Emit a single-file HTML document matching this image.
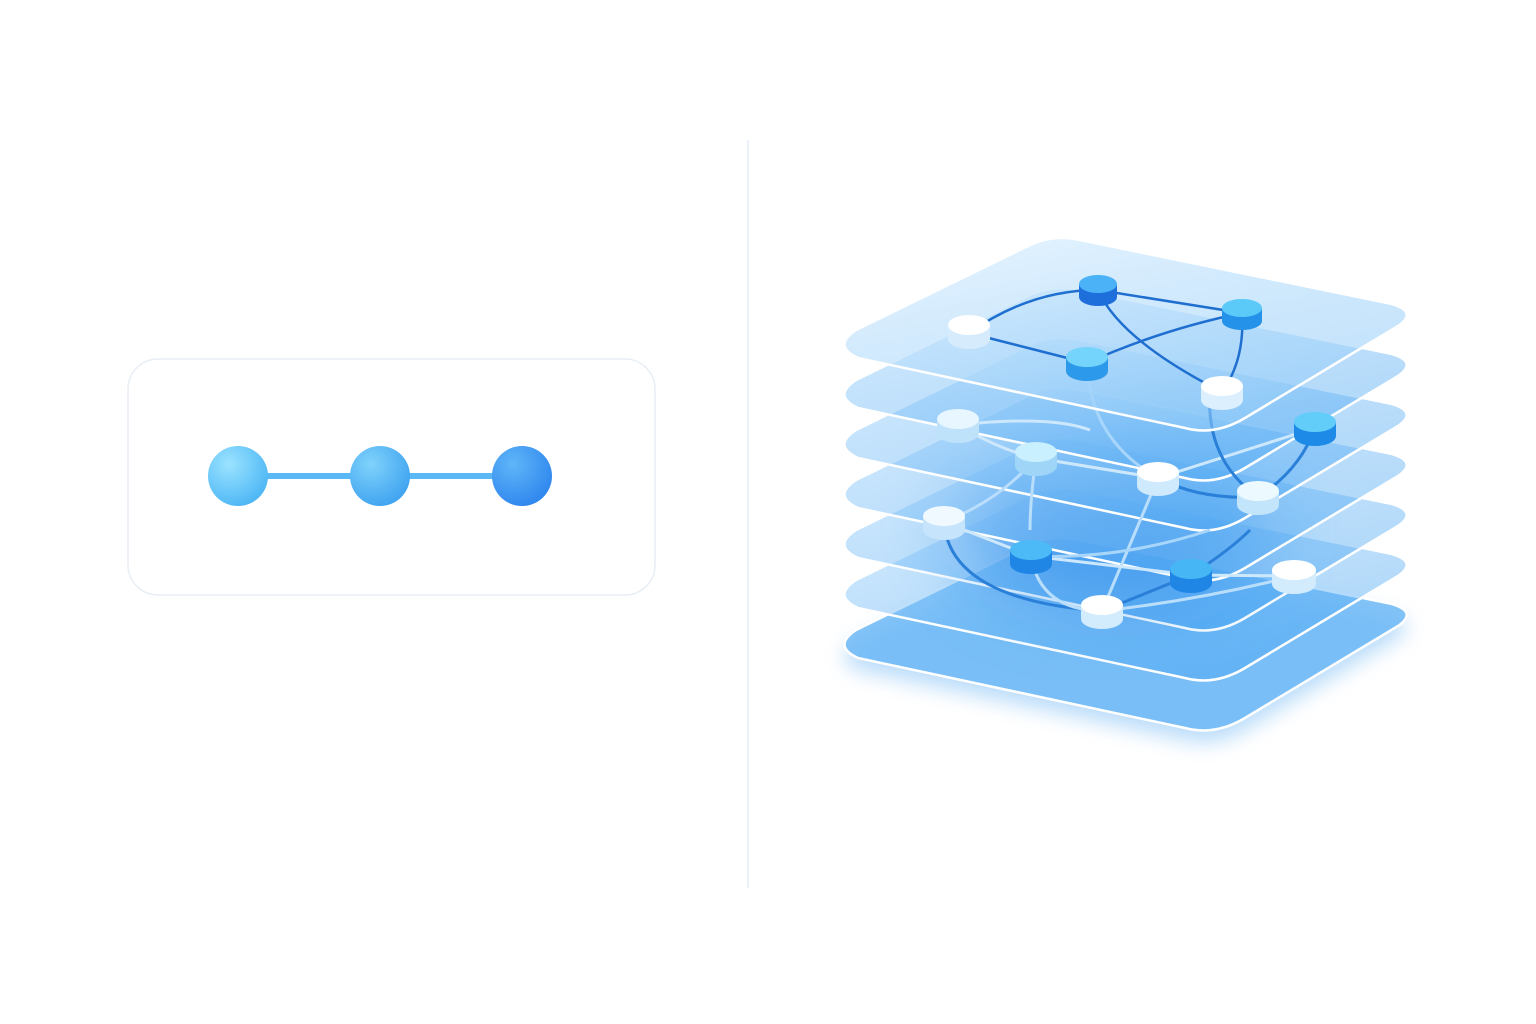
<!DOCTYPE html>
<html><head><meta charset="utf-8"><style>html,body{margin:0;padding:0;background:#fff;}svg{display:block}</style></head>
<body>
<svg width="1536" height="1024" viewBox="0 0 1536 1024" xmlns="http://www.w3.org/2000/svg">
<defs>
<radialGradient id="b1" cx="35%" cy="30%" r="75%"><stop offset="0" stop-color="#9be3ff"/><stop offset="1" stop-color="#4cb6f5"/></radialGradient>
<radialGradient id="b2" cx="35%" cy="30%" r="75%"><stop offset="0" stop-color="#7fd2fb"/><stop offset="1" stop-color="#3fa3f0"/></radialGradient>
<radialGradient id="b3" cx="35%" cy="30%" r="75%"><stop offset="0" stop-color="#5fb6f8"/><stop offset="1" stop-color="#2f86ee"/></radialGradient>
<linearGradient id="lay" x1="0" y1="0" x2="0.6" y2="1"><stop offset="0" stop-color="#b6ddfc" stop-opacity="0.55"/><stop offset="1" stop-color="#4aa6f3" stop-opacity="0.45"/></linearGradient>
<linearGradient id="top" x1="0" y1="0" x2="0.6" y2="1"><stop offset="0" stop-color="#e4f3ff" stop-opacity="0.8"/><stop offset="1" stop-color="#8fcaf8" stop-opacity="0.55"/></linearGradient>
<path id="L" d="M856,330 Q832,346 858,358 L1185,428 Q1215,436 1245,418 L1398,326 Q1418,312 1392,304 L1080,240 Q1052,234 1028,246 Z"/>
<filter id="sh" x="-20%" y="-20%" width="140%" height="140%"><feGaussianBlur stdDeviation="10"/></filter>
<filter id="bl" x="-50%" y="-50%" width="200%" height="200%"><feGaussianBlur stdDeviation="40"/></filter>
</defs>
<line x1="748" y1="140" x2="748" y2="888" stroke="#e6eef7" stroke-width="1.5"/>
<rect x="128" y="359" width="527" height="236" rx="30" fill="#fff" stroke="#e8eef5" stroke-width="1.5"/>
<line x1="238" y1="476" x2="522" y2="476" stroke="#5ab8f5" stroke-width="6"/>
<circle cx="238" cy="476" r="30" fill="url(#b1)"/>
<circle cx="380" cy="476" r="30" fill="url(#b2)"/>
<circle cx="522" cy="476" r="30" fill="url(#b3)"/>

<use href="#L" transform="translate(0,312)" fill="#3a9cf0" opacity="0.35" filter="url(#sh)"/>
<g stroke="#ffffff" stroke-width="2.5">
<use href="#L" transform="translate(0,300)" style="fill:#6db8f6;fill-opacity:0.85"/>
<use href="#L" transform="translate(0,250)" fill="url(#lay)"/>
<use href="#L" transform="translate(0,200)" fill="url(#lay)"/>
</g>
<ellipse cx="1110" cy="520" rx="150" ry="80" fill="#1f7fe6" opacity="0.55" filter="url(#bl)"/>
<g stroke="#ffffff" stroke-width="2.5">
<use href="#L" transform="translate(0,150)" fill="url(#lay)"/>
<use href="#L" transform="translate(0,100)" fill="url(#lay)"/>
<use href="#L" transform="translate(0,50)" fill="url(#lay)"/>
</g>
<g fill="none" stroke-width="3">
<path d="M944,522 Q1000,500 1036,458" stroke="#b8defc"/>
<path d="M958,425 Q1000,450 1036,458 L1158,478 L1315,428" stroke="#cde8fd"/>
<path d="M958,425 Q1050,415 1090,430" stroke="#cde8fd"/>
<path d="M1158,478 Q1200,500 1258,497 Q1300,470 1315,428" stroke="#2a7fd8"/>
<path d="M1087,363 Q1090,440 1158,478" stroke="#a8d6fb"/>
<path d="M1158,478 L1102,611" stroke="#b8defc"/>
<path d="M944,522 L1031,556 L1191,575 L1294,576" stroke="#cde8fd"/>
<path d="M1031,556 Q1120,560 1210,530" stroke="#a8d6fb"/>
<path d="M944,522 Q950,600 1102,611 L1191,575 Q1230,550 1250,530" stroke="#2a7fd8"/>
<path d="M1031,556 Q1040,610 1102,611 Q1200,600 1294,576" stroke="#b8defc"/>
<path d="M1036,458 Q1030,500 1030,530" stroke="#b8defc"/>
<path d="M1210,390 Q1205,460 1258,497" stroke="#2a7fd8"/>
</g>
<use href="#L" fill="url(#top)" stroke="#fff" stroke-width="2.5"/>
<g fill="none" stroke-width="2.5" stroke="#1f6fd0">
<path d="M969,333 Q1030,290 1098,290 L1242,313"/>
<path d="M969,333 L1087,363 Q1160,330 1242,313"/>
<path d="M1098,290 Q1120,340 1222,392 Q1245,360 1242,313"/>
</g>
<g>
<g><rect x="948" y="325" width="42" height="14" fill="#d6ecfc"/><ellipse cx="969" cy="339" rx="21" ry="10" fill="#d6ecfc"/><ellipse cx="969" cy="325" rx="21" ry="10" fill="#ffffff"/></g>
<g><rect x="1079" y="284" width="38" height="13" fill="#1e6fdc"/><ellipse cx="1098" cy="297" rx="19" ry="9" fill="#1e6fdc"/><ellipse cx="1098" cy="284" rx="19" ry="9" fill="#4bb2f7"/></g>
<g><rect x="1222" y="308" width="40" height="13" fill="#2592ea"/><ellipse cx="1242" cy="321" rx="20" ry="9" fill="#2592ea"/><ellipse cx="1242" cy="308" rx="20" ry="9" fill="#5ccaf9"/></g>
<g><rect x="1066" y="357" width="42" height="14" fill="#2d99ea"/><ellipse cx="1087" cy="371" rx="21" ry="10" fill="#2d99ea"/><ellipse cx="1087" cy="357" rx="21" ry="10" fill="#75d4fb"/></g>
<g><rect x="1201" y="386" width="42" height="14" fill="#dcefff"/><ellipse cx="1222" cy="400" rx="21" ry="10" fill="#dcefff"/><ellipse cx="1222" cy="386" rx="21" ry="10" fill="#ffffff"/></g>
<g><rect x="937" y="419" width="42" height="14" fill="#bfe2fb"/><ellipse cx="958" cy="433" rx="21" ry="10" fill="#bfe2fb"/><ellipse cx="958" cy="419" rx="21" ry="10" fill="#e8f6ff"/></g>
<g><rect x="1015" y="452" width="42" height="14" fill="#9fd6f8"/><ellipse cx="1036" cy="466" rx="21" ry="10" fill="#9fd6f8"/><ellipse cx="1036" cy="452" rx="21" ry="10" fill="#c9f0ff"/></g>
<g><rect x="1294" y="422" width="42" height="14" fill="#1e8ae8"/><ellipse cx="1315" cy="436" rx="21" ry="10" fill="#1e8ae8"/><ellipse cx="1315" cy="422" rx="21" ry="10" fill="#62cdf9"/></g>
<g><rect x="1137" y="472" width="42" height="14" fill="#cfe9fd"/><ellipse cx="1158" cy="486" rx="21" ry="10" fill="#cfe9fd"/><ellipse cx="1158" cy="472" rx="21" ry="10" fill="#ffffff"/></g>
<g><rect x="1237" y="491" width="42" height="14" fill="#c3e5fb"/><ellipse cx="1258" cy="505" rx="21" ry="10" fill="#c3e5fb"/><ellipse cx="1258" cy="491" rx="21" ry="10" fill="#ecf9ff"/></g>
<g><rect x="923" y="516" width="42" height="14" fill="#c6e4fb"/><ellipse cx="944" cy="530" rx="21" ry="10" fill="#c6e4fb"/><ellipse cx="944" cy="516" rx="21" ry="10" fill="#f0f9ff"/></g>
<g><rect x="1010" y="550" width="42" height="14" fill="#1f86e6"/><ellipse cx="1031" cy="564" rx="21" ry="10" fill="#1f86e6"/><ellipse cx="1031" cy="550" rx="21" ry="10" fill="#4cbaf6"/></g>
<g><rect x="1170" y="569" width="42" height="14" fill="#1f86e6"/><ellipse cx="1191" cy="583" rx="21" ry="10" fill="#1f86e6"/><ellipse cx="1191" cy="569" rx="21" ry="10" fill="#46b6f5"/></g>
<g><rect x="1272" y="570" width="44" height="14" fill="#d3ecfd"/><ellipse cx="1294" cy="584" rx="22" ry="10" fill="#d3ecfd"/><ellipse cx="1294" cy="570" rx="22" ry="10" fill="#ffffff"/></g>
<g><rect x="1081" y="605" width="42" height="14" fill="#d3ecfd"/><ellipse cx="1102" cy="619" rx="21" ry="10" fill="#d3ecfd"/><ellipse cx="1102" cy="605" rx="21" ry="10" fill="#ffffff"/></g>
</g>
</svg>
</body></html>
